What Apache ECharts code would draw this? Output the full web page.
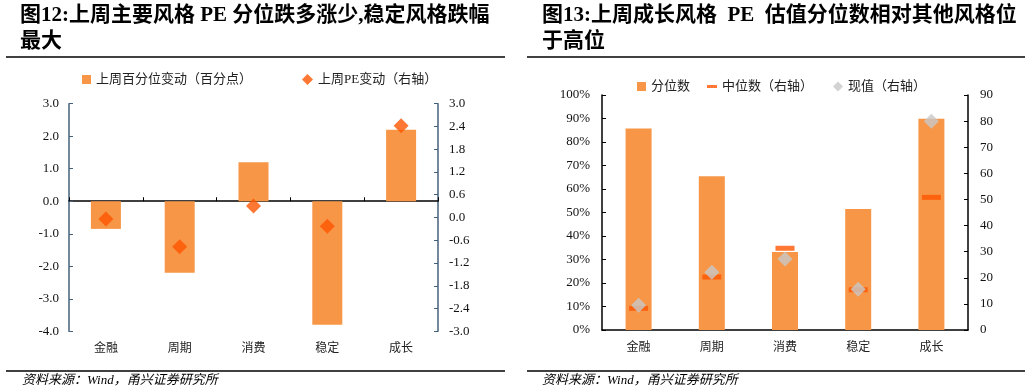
<!DOCTYPE html>
<html>
<head>
<meta charset="utf-8">
<script src="https://cdn.jsdelivr.net/npm/echarts@6/dist/echarts.min.js"></script>
<style>
html,body{margin:0;padding:0;background:#fff;}
#c{width:1032px;height:388px;}
</style>
</head>
<body>
<div id="c"></div>
<script>
// ---- data ----
const categories = ['金融', '周期', '消费', '稳定', '成长'];
// chart 12
const pctChange = [-0.85, -2.2, 1.2, -3.8, 2.2];      // 上周百分位变动（百分点）
const peChange = [-0.04, -0.77, 0.30, -0.23, 2.42];   // 上周PE变动（右轴）
// chart 13
const percentile = [85.7, 65.4, 33.2, 51.5, 89.9];    // 分位数 (%)
const median = [8.3, 20.3, 31.3, 15.4, 50.8];         // 中位数（右轴）
const current = [9.5, 22.1, 27.2, 15.6, 79.9];        // 现值（右轴）

const titleLeft = ['图12:上周主要风格 PE 分位跌多涨少,稳定风格跌幅', '最大'];
const titleRight = ['图13:上周成长风格  PE  估值分位数相对其他风格位', '于高位'];
const sourceText = '资料来源：Wind，甬兴证券研究所';

const ORANGE = '#f79646';
const RED = '#fe5500';
const GREY = '#c8c8c8';
const NUMFONT = '"Liberation Serif", "Noto Sans CJK SC", serif';
const CJKFONT = '"Liberation Serif", "Noto Sans CJK SC", serif';

const chart = echarts.init(document.getElementById('c'), null, {renderer: 'canvas'});

function titleText(x, y, txt) {
  return {type: 'text', left: x, top: y, style: {text: txt, fill: '#000', font: 'bold 21px "Liberation Serif", "Noto Sans CJK SC", serif'}};
}
function hline(x1, x2, y) {
  return {type: 'line', shape: {x1: x1, y1: y, x2: x2, y2: y}, style: {stroke: '#000', lineWidth: 1.3}};
}
function srcText(x, y) {
  return {type: 'text', left: x, top: y, style: {text: sourceText, fill: '#000', font: 'italic 13px "Liberation Serif", "Noto Sans CJK SC", serif'}};
}

const axisNumLabel = {fontFamily: NUMFONT, fontSize: 13, color: '#111'};

const option = {
  animation: false,
  backgroundColor: '#fff',
  graphic: [
    titleText(20, 5, titleLeft[0]),
    titleText(20, 31, titleLeft[1]),
    titleText(542, 5, titleRight[0]),
    titleText(542, 31, titleRight[1]),
    hline(6, 505, 57),
    hline(527, 1025, 57),
    hline(6, 505, 371),
    hline(527, 1025, 371),
    srcText(22, 374),
    srcText(542, 374)
  ],
  legend: [
    {data: [{name: '上周百分位变动（百分点）', icon: 'rect'}], left: 77, top: 68, itemWidth: 9, itemHeight: 9,
     textStyle: {fontFamily: CJKFONT, fontSize: 13, color: '#222'}},
    {data: [{name: '上周PE变动（右轴）', icon: 'diamond'}], left: 297, top: 68, itemWidth: 11, itemHeight: 11,
     textStyle: {fontFamily: CJKFONT, fontSize: 13, color: '#222'}},
    {data: [{name: '分位数', icon: 'rect'}], left: 632, top: 75, itemWidth: 9, itemHeight: 9,
     textStyle: {fontFamily: CJKFONT, fontSize: 13, color: '#222'}},
    {data: [{name: '中位数（右轴）', icon: 'rect'}], left: 702, top: 75, itemWidth: 10, itemHeight: 3,
     textStyle: {fontFamily: CJKFONT, fontSize: 13, color: '#222'}},
    {data: [{name: '现值（右轴）', icon: 'diamond'}], left: 828, top: 75, itemWidth: 10, itemHeight: 10,
     textStyle: {fontFamily: CJKFONT, fontSize: 13, color: '#222'}}
  ],
  grid: [
    {left: 69, top: 103.7, width: 369, height: 227.6},
    {left: 602, top: 95, width: 366, height: 235}
  ],
  xAxis: [
    {type: 'category', gridIndex: 0, data: categories, position: 'bottom',
     axisLine: {show: false, onZero: false}, axisTick: {show: false},
     axisLabel: {fontFamily: CJKFONT, fontSize: 12, color: '#222', margin: 12}},
    {type: 'category', gridIndex: 0, data: categories, position: 'bottom',
     axisLine: {show: true, onZero: true, onZeroAxisIndex: 0, lineStyle: {color: '#000', width: 1.5}},
     axisTick: {show: true, inside: true, length: 4, alignWithLabel: false, lineStyle: {color: '#000'}},
     axisLabel: {show: false}},
    {type: 'category', gridIndex: 1, data: categories,
     axisLine: {show: true, lineStyle: {color: '#000', width: 1.5}},
     axisTick: {show: true, inside: true, length: 4, alignWithLabel: true, lineStyle: {color: '#000'}},
     axisLabel: {fontFamily: CJKFONT, fontSize: 12, color: '#222', margin: 12}}
  ],
  yAxis: [
    {type: 'value', gridIndex: 0, position: 'left', min: -4, max: 3, interval: 1,
     axisLine: {show: true, lineStyle: {color: '#44607a', width: 1.5}},
     axisTick: {show: true, inside: true, length: 4, lineStyle: {color: '#44607a'}},
     splitLine: {show: false},
     axisLabel: Object.assign({formatter: v => v.toFixed(1), margin: 10}, axisNumLabel)},
    {type: 'value', gridIndex: 0, position: 'right', min: -3, max: 3, interval: 0.6,
     axisLine: {show: true, lineStyle: {color: '#44607a', width: 1.5}},
     axisTick: {show: true, inside: true, length: 4, lineStyle: {color: '#44607a'}},
     splitLine: {show: false},
     axisLabel: Object.assign({formatter: v => (Math.round(v * 10) / 10).toFixed(1), margin: 11}, axisNumLabel)},
    {type: 'value', gridIndex: 1, position: 'left', min: 0, max: 100, interval: 10,
     axisLine: {show: true, lineStyle: {color: '#000', width: 1.5}},
     axisTick: {show: true, inside: true, length: 4, lineStyle: {color: '#000'}},
     splitLine: {show: false},
     axisLabel: Object.assign({formatter: v => Math.round(v) + '%', margin: 12}, axisNumLabel)},
    {type: 'value', gridIndex: 1, position: 'right', min: 0, max: 90, interval: 10,
     axisLine: {show: true, lineStyle: {color: '#000', width: 1.5}},
     axisTick: {show: true, inside: true, length: 4, lineStyle: {color: '#000'}},
     splitLine: {show: false},
     axisLabel: Object.assign({margin: 12}, axisNumLabel)}
  ],
  series: [
    {name: '上周百分位变动（百分点）', type: 'bar', xAxisIndex: 0, yAxisIndex: 0, data: pctChange,
     barWidth: 30, itemStyle: {color: ORANGE}},
    {name: '上周PE变动（右轴）', type: 'scatter', xAxisIndex: 0, yAxisIndex: 1, data: peChange,
     symbol: 'diamond', symbolSize: 15, itemStyle: {color: RED}, z: 5},
    {name: '分位数', type: 'bar', xAxisIndex: 2, yAxisIndex: 2, data: percentile,
     barWidth: 26, itemStyle: {color: ORANGE}},
    {name: '中位数（右轴）', type: 'scatter', xAxisIndex: 2, yAxisIndex: 3, data: median,
     symbol: 'rect', symbolSize: [19, 5], itemStyle: {color: RED}, z: 4},
    {name: '现值（右轴）', type: 'scatter', xAxisIndex: 2, yAxisIndex: 3, data: current,
     symbol: 'diamond', symbolSize: 15, itemStyle: {color: GREY}, z: 5}
  ]
};
chart.setOption(option);
</script>
</body>
</html>
